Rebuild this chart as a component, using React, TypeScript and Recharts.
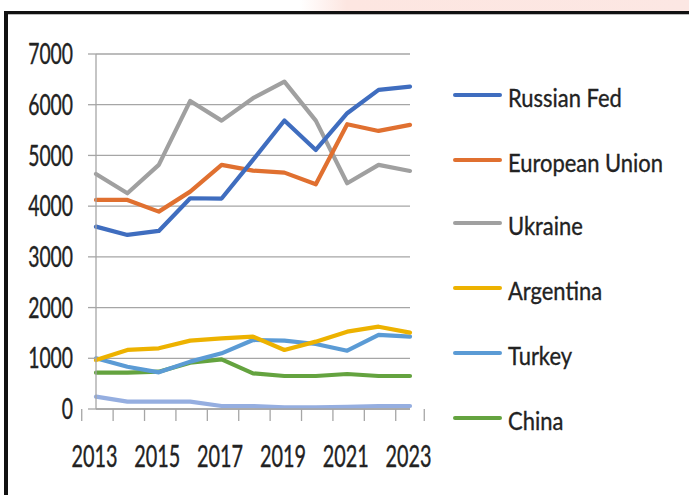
import React from "react";
import { LineChart, Line, XAxis, YAxis, CartesianGrid } from "recharts";

const years = ["2013", "2014", "2015", "2016", "2017", "2018", "2019", "2020", "2021", "2022", "2023"];
const russianFed = [3596, 3432, 3511, 4156, 4150, 4911, 5690, 5108, 5832, 6292, 6357];
const europeanUnion = [4122, 4122, 3892, 4286, 4813, 4700, 4661, 4432, 5615, 5483, 5602];
const ukraine = [4635, 4254, 4813, 6075, 5686, 6128, 6456, 5686, 4452, 4813, 4694];
const argentina = [966, 1164, 1197, 1348, 1394, 1427, 1164, 1328, 1525, 1623, 1505];
const turkey = [1000, 834, 723, 934, 1098, 1361, 1348, 1282, 1150, 1460, 1427];
const china = [716, 716, 736, 913, 980, 703, 651, 651, 690, 651, 651];
const other = [243, 144, 144, 144, 59, 59, 33, 33, 40, 59, 59];
const yTicks = [0, 1000, 2000, 3000, 4000, 5000, 6000, 7000];

const series = [
  { key: "russianFed", name: "Russian Fed", values: russianFed, color: "#3F6DBF", legend: true },
  { key: "europeanUnion", name: "European Union", values: europeanUnion, color: "#E07030", legend: true },
  { key: "ukraine", name: "Ukraine", values: ukraine, color: "#A0A0A0", legend: true },
  { key: "argentina", name: "Argentina", values: argentina, color: "#EDB200", legend: true },
  { key: "turkey", name: "Turkey", values: turkey, color: "#5B9BD5", legend: true },
  { key: "china", name: "China", values: china, color: "#64A33F", legend: true },
  { key: "other", name: "Other", values: other, color: "#95AEE0", legend: false },
];

const legendRows = [95, 160, 223, 288, 353, 418];

const data = years.map((y, i) => {
  const row: Record<string, any> = { year: y };
  series.forEach((s) => (row[s.key] = s.values[i]));
  return row;
});

const FONT = "Lato, 'DejaVu Sans Condensed', sans-serif";
const W = 689;
const H = 495;
const M_LEFT = 0;
const Y_W = 96;
const M_RIGHT = 279;
const BAND = (W - M_LEFT - Y_W - M_RIGHT) / years.length;
const GRID = "#A6A6A6";
const TEXT = "#222222";

const XTick = (props: any) => {
  const { x, y, payload, index } = props;
  const last = index === years.length - 1;
  return (
    <g>
      <line x1={x - BAND / 2} x2={x - BAND / 2} y1={y} y2={y + 12} stroke={GRID} strokeWidth={1.3} />
      {last && <line x1={x + BAND / 2} x2={x + BAND / 2} y1={y} y2={y + 12} stroke={GRID} strokeWidth={1.3} />}
      {index % 2 === 0 && (
        <text
          transform={`translate(${x - 1.5},${y + 58}) scale(0.64,1)`}
          textAnchor="middle"
          fontFamily={FONT}
          fontSize={31}
          fill={TEXT}
          stroke={TEXT}
          strokeWidth={0.4}
        >
          {payload.value}
        </text>
      )}
    </g>
  );
};

const YTick = (props: any) => {
  const { x, y, payload } = props;
  return (
    <text
      transform={`translate(${x + 1},${y}) scale(0.69,1)`}
      textAnchor="end"
      dy="0.36em"
      fontFamily={FONT}
      fontSize={28}
      fill={TEXT}
      stroke={TEXT}
      strokeWidth={0.4}
    >
      {payload.value}
    </text>
  );
};

export default function App() {
  return (
    <div style={{ position: "absolute", left: 0, top: 0, width: W, height: H, background: "#fff", overflow: "hidden" }}>
      <div
        style={{
          position: "absolute",
          left: 300,
          top: 0,
          width: 389,
          height: 11,
          background: "linear-gradient(to right, rgba(253,232,228,0) 0%, #fde6e1 12%, #fce7e3 100%)",
        }}
      />
      <div
        style={{
          position: "absolute",
          left: 4,
          top: 11,
          width: 720,
          height: 520,
          borderTop: "3px solid #111",
          borderLeft: "4px solid #111",
          boxShadow: "inset 0 1px 0 #bbb",
        }}
      />
      <div style={{ position: "absolute", left: 0, top: 0 }}>
        <LineChart width={W} height={H} data={data} margin={{ top: 54, right: M_RIGHT, left: M_LEFT, bottom: 26 }}>
          <CartesianGrid vertical={false} stroke={GRID} strokeWidth={1.3} />
          <XAxis
            dataKey="year"
            height={60}
            interval={0}
            tickSize={0}
            tickMargin={0}
            tickLine={false}
            axisLine={{ stroke: GRID, strokeWidth: 1.3 }}
            tick={<XTick />}
          />
          <YAxis
            width={Y_W}
            domain={[0, 7000]}
            ticks={yTicks}
            interval={0}
            tickSize={8}
            tickMargin={16}
            axisLine={{ stroke: GRID, strokeWidth: 1.3 }}
            tickLine={{ stroke: GRID, strokeWidth: 1.3 }}
            tick={<YTick />}
          />
          {series
            .slice()
            .reverse()
            .map((s) => (
              <Line
                key={s.key}
                dataKey={s.key}
                name={s.name}
                stroke={s.color}
                strokeWidth={4.2}
                dot={false}
                activeDot={false}
                type="linear"
                strokeLinejoin="round"
                strokeLinecap="round"
                isAnimationActive={false}
                legendType={s.legend ? "plainline" : "none"}
              />
            ))}
        </LineChart>
      </div>
      {series
        .filter((s) => s.legend)
        .map((s, i) => (
          <div key={s.key}>
            <div
              style={{
                position: "absolute",
                left: 453,
                top: legendRows[i] - 2,
                width: 49,
                height: 4,
                background: s.color,
                borderRadius: 2,
              }}
            />
            <div
              style={{
                position: "absolute",
                left: 508,
                top: legendRows[i] + 2 - 16,
                height: 32,
                lineHeight: "32px",
                fontFamily: FONT,
                fontSize: 25.5,
                color: TEXT,
                WebkitTextStroke: "0.35px #222",
                whiteSpace: "nowrap",
                transform: "scaleX(0.86)",
                transformOrigin: "left center",
              }}
            >
              {s.name}
            </div>
          </div>
        ))}
    </div>
  );
}
